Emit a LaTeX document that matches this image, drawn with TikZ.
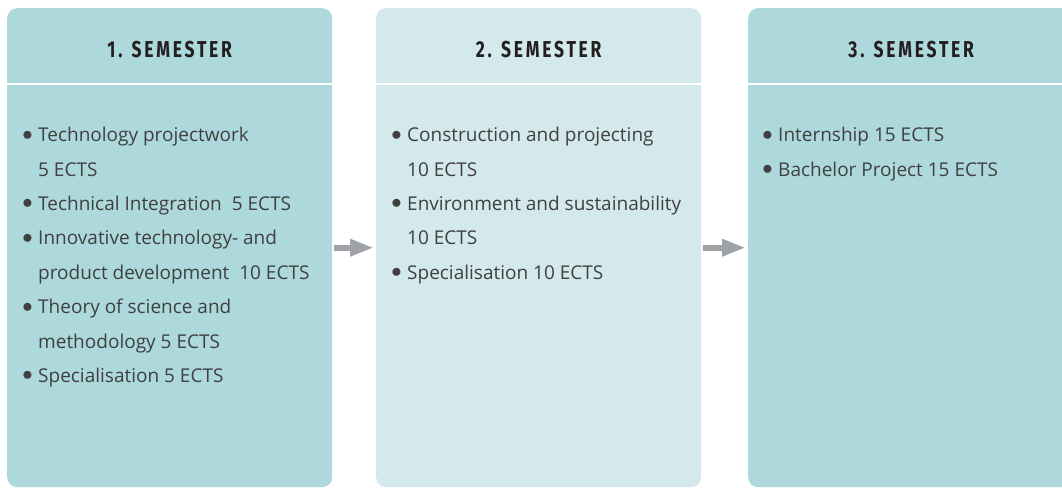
\documentclass[tikz,border=0pt]{standalone}
\usepackage{fontspec}
\setmainfont{Open Sans}
\newfontfamily\headfont[FakeStretch=0.76,LetterSpace=12]{Fira Sans}
\usetikzlibrary{arrows.meta}
\definecolor{tealdark}{HTML}{ADD8DC}
\definecolor{teallight}{HTML}{D3E9EC}
\definecolor{listink}{HTML}{404040}
\definecolor{headink}{HTML}{231F20}
\definecolor{arrowgrey}{HTML}{9FA3A7}
\newcommand{\itm}{\llap{\raisebox{1.5pt}{\fontsize{22}{22}\selectfont$\bullet$}\hspace*{5.5pt}}}
\newcommand{\firstline}{\rule{0pt}{14pt}}
\begin{document}
\begin{tikzpicture}[x=1pt, y=-1pt,
  sembox/.style={rectangle, rounded corners=10pt, inner sep=0pt, minimum height=479pt, anchor=north west},
  semhead/.style={font=\headfont\bfseries\fontsize{23}{23}\selectfont, text=headink, inner sep=0pt},
  semlist/.style={font=\fontsize{19}{34.4}\selectfont, text=listink, align=left, inner sep=0pt, anchor=north west},
  semsep/.style={white, line width=2.5pt},
  semarrow/.style={-{Triangle[length=24pt,width=16pt]}, line width=6pt, arrowgrey, shorten <=2pt, shorten >=2pt}]
\useasboundingbox (0,0) rectangle (1062,487);
\clip (0,0) rectangle (1062,487);
% columns
\node[sembox, fill=tealdark, minimum width=325pt] (sem1) at (7,8) {};
\node[sembox, fill=teallight, minimum width=325pt] (sem2) at (376,8) {};
\node[sembox, fill=tealdark, minimum width=340pt] (sem3) at (748,8) {};
\draw[semsep] ([yshift=-76pt]sem1.north west) -- ([yshift=-76pt]sem1.north east);
\draw[semsep] ([yshift=-76pt]sem2.north west) -- ([yshift=-76pt]sem2.north east);
\draw[semsep] ([yshift=-76pt]sem3.north west) -- ([yshift=-76pt]sem3.north east);
% headers
\node[semhead] (head1) at ([yshift=-42pt]sem1.north) {1. SEMESTER};
\node[semhead] (head2) at ([yshift=-42pt]sem2.north) {2. SEMESTER};
\node[semhead] (head3) at ([xshift=-7pt,yshift=-42pt]sem3.north) {3. SEMESTER};
% courses
\node[semlist] (list1) at ([xshift=31pt,yshift=-119pt]sem1.north west) {%
\itm\firstline Technology projectwork\\
5 ECTS\\
\itm Technical Integration\ \ 5 ECTS\\
\itm Innovative technology- and\\
product development\ \ 10 ECTS\\
\itm Theory of science and\\
methodology 5 ECTS\\
\itm Specialisation 5 ECTS};
\node[semlist] (list2) at ([xshift=31pt,yshift=-119pt]sem2.north west) {%
\itm\firstline Construction and projecting\\
10 ECTS\\
\itm Environment and sustainability\\
10 ECTS\\
\itm Specialisation 10 ECTS};
\node[semlist] (list3) at ([xshift=30pt,yshift=-119pt]sem3.north west) {%
\itm\firstline Internship 15 ECTS\\
\itm Bachelor Project 15 ECTS};
% arrows
\draw[semarrow](sem1) -- (sem2);
\draw[semarrow](sem2) -- (sem3);
\end{tikzpicture}
\end{document}
